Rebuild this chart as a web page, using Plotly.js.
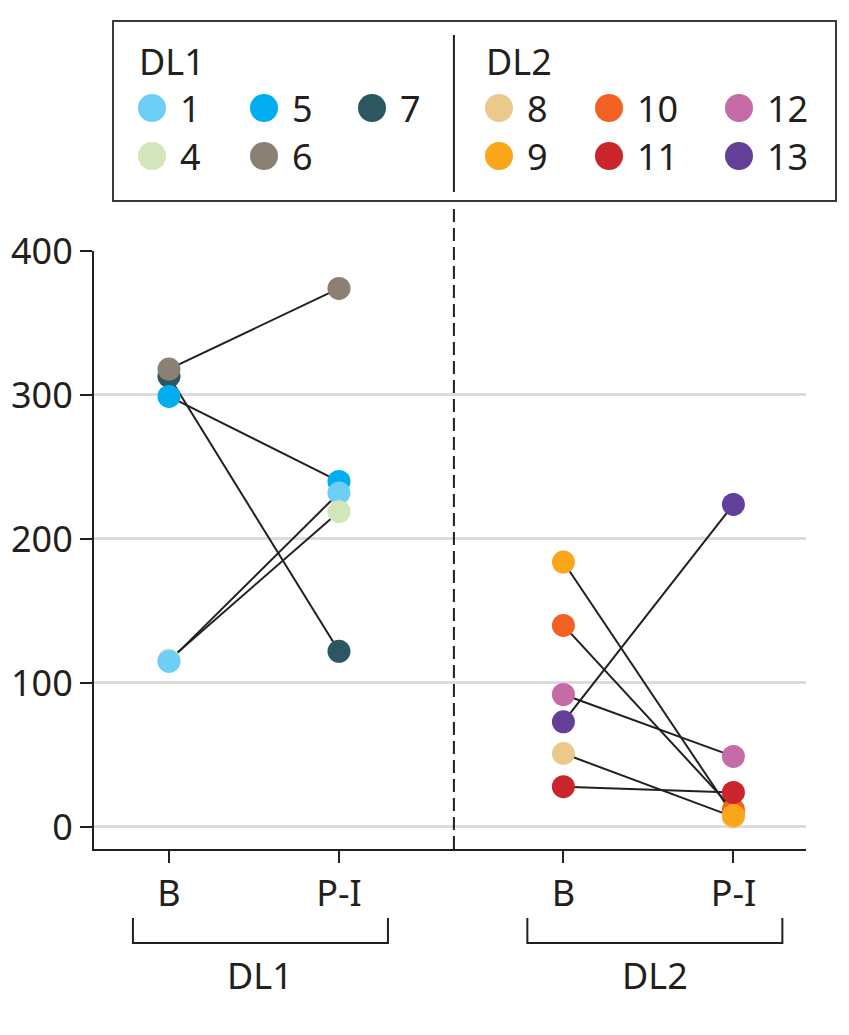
<!DOCTYPE html>
<html>
<head>
<meta charset="utf-8">
<script src="https://cdn.plot.ly/plotly-3.0.1.min.js"></script>
<style>
  body { margin: 0; background: #fff; }
  #chart { width: 849px; height: 1035px; }
</style>
</head>
<body>
<div id="chart"></div>
<script>
// time points and groups
const timepoints = ['B', 'P-I'];
const groups = ['DL1', 'DL2'];
const groupOffset = [0, 2.32];

// DL1 subjects
const dl1Ids = ['1', '4', '5', '6', '7'];
const dl1B = [115, 116, 299, 318, 313];
const dl1PI = [232, 219, 240, 374, 122];
const dl1Colors = ['#6dcff6', '#d3e5bb', '#00aeef', '#8a8172', '#2d5663'];

// DL2 subjects
const dl2Ids = ['8', '9', '10', '11', '12', '13'];
const dl2B = [51, 184, 140, 28, 92, 73];
const dl2PI = [7, 8, 12, 24, 49, 224];
const dl2Colors = ['#ebc98a', '#faa61a', '#f26122', '#c9252b', '#c56ba8', '#633f99'];

// which dot sits on top where they overlap (last drawn = on top)
const dl1OrderB = ['7', '5', '6', '4', '1'];
const dl1OrderPI = ['7', '6', '5', '1', '4'];
const dl2OrderB = ['8', '9', '10', '11', '12', '13'];
const dl2OrderPI = ['8', '10', '11', '9', '12', '13'];

const ink = '#231f20';
const fontFam = '"Noto Sans", "DejaVu Sans", sans-serif';

// plot area in pixels, used to place the decorations around it
const L = 94, R = 806, T = 251, B = 849;
const px = x => (x - L) / (R - L);
const py = y => (B - y) / (B - T);

const groupData = [
  { ids: dl1Ids, b: dl1B, pi: dl1PI, colors: dl1Colors, orderB: dl1OrderB, orderPI: dl1OrderPI },
  { ids: dl2Ids, b: dl2B, pi: dl2PI, colors: dl2Colors, orderB: dl2OrderB, orderPI: dl2OrderPI }
];

const traces = [];

// connecting lines first so the dots sit on top
groupData.forEach((g, gi) => {
  g.ids.forEach((id, i) => {
    traces.push({
      type: 'scatter',
      mode: 'lines',
      x: [groupOffset[gi], groupOffset[gi] + 1],
      y: [g.b[i], g.pi[i]],
      line: { color: ink, width: 2 },
      hoverinfo: 'skip',
      showlegend: false
    });
  });
});

// dots, one trace per group and time point
groupData.forEach((g, gi) => {
  [[g.orderB, g.b, 0], [g.orderPI, g.pi, 1]].forEach(([order, vals, t]) => {
    const idx = order.map(id => g.ids.indexOf(id));
    traces.push({
      type: 'scatter',
      mode: 'markers',
      x: idx.map(() => groupOffset[gi] + t),
      y: idx.map(i => vals[i]),
      text: idx.map(i => g.ids[i]),
      marker: { size: 23, color: idx.map(i => g.colors[i]), line: { width: 0 } },
      hovertemplate: groups[gi] + ' #%{text}<br>' + timepoints[t] + ': %{y}<extra></extra>',
      showlegend: false
    });
  });
});

const tickvals = [];
const ticktext = [];
groupOffset.forEach(off => {
  timepoints.forEach((tp, t) => { tickvals.push(off + t); ticktext.push(tp); });
});

const shapes = [];
const annotations = [];

// legend box and its divider
shapes.push({ type: 'rect', xref: 'paper', yref: 'paper',
  x0: px(113), x1: px(836), y0: py(201), y1: py(21),
  line: { color: '#3a3a3a', width: 2 }, fillcolor: 'rgba(0,0,0,0)' });
const divX = 1.676;
shapes.push({ type: 'line', xref: 'x', yref: 'paper', x0: divX, x1: divX,
  y0: py(192), y1: py(35), line: { color: ink, width: 2 } });
shapes.push({ type: 'line', xref: 'x', yref: 'paper', x0: divX, x1: divX,
  y0: 0, y1: py(203), line: { color: ink, width: 2, dash: '13px,6px' } });

// legend entries, laid out column by column
const legTitleX = [137, 484];
const legCols = [[152, 264, 372], [499, 609, 739]];
const legRows = [108, 156];
groupData.forEach((g, gi) => {
  annotations.push({ xref: 'paper', yref: 'paper', x: px(legTitleX[gi]), y: py(61),
    xanchor: 'left', yanchor: 'middle', showarrow: false, text: groups[gi],
    font: { family: fontFam, size: 36, color: ink } });
  g.ids.forEach((id, i) => {
    const cx = legCols[gi][Math.floor(i / 2)];
    const cy = legRows[i % 2];
    shapes.push({ type: 'circle', xref: 'paper', yref: 'paper',
      xsizemode: 'pixel', ysizemode: 'pixel', xanchor: px(cx), yanchor: py(cy),
      x0: -14, x1: 14, y0: -14, y1: 14,
      fillcolor: g.colors[i], line: { width: 0 } });
    annotations.push({ xref: 'paper', yref: 'paper', x: px(cx + 26), y: py(cy),
      xanchor: 'left', yanchor: 'middle', showarrow: false, text: id,
      font: { family: fontFam, size: 36, color: ink } });
  });
});

// group brackets under the axis
groupOffset.forEach((off, gi) => {
  const x0 = off - 0.212, x1 = off + 1.288;
  shapes.push({ type: 'path', xref: 'x', yref: 'paper',
    path: `M ${x0} ${py(918)} L ${x0} ${py(943)} L ${x1} ${py(943)} L ${x1} ${py(918)}`,
    line: { color: ink, width: 2 } });
  annotations.push({ xref: 'x', yref: 'paper', x: (x0 + x1) / 2, y: py(975),
    xanchor: 'center', yanchor: 'middle', showarrow: false, text: groups[gi],
    font: { family: fontFam, size: 36, color: ink } });
});

const layout = {
  width: 849,
  height: 1035,
  margin: { l: L, r: 849 - R, t: T, b: 1035 - B },
  paper_bgcolor: '#fff',
  plot_bgcolor: '#fff',
  showlegend: false,
  font: { family: fontFam, size: 36, color: ink },
  xaxis: {
    range: [-0.441, 3.747],
    tickvals: tickvals,
    ticktext: ticktext,
    ticks: 'outside',
    ticklen: 12,
    tickwidth: 2,
    tickcolor: ink,
    showgrid: false,
    zeroline: false,
    showline: true,
    linecolor: ink,
    linewidth: 2,
    tickfont: { family: fontFam, size: 36, color: ink }
  },
  yaxis: {
    range: [-15.3, 400],
    tickvals: [0, 100, 200, 300, 400],
    ticks: 'outside',
    ticklen: 12,
    tickwidth: 2,
    tickcolor: ink,
    showgrid: true,
    gridcolor: '#dcdcdc',
    gridwidth: 3,
    zeroline: false,
    showline: true,
    linecolor: ink,
    linewidth: 2,
    tickfont: { family: fontFam, size: 36, color: ink }
  },
  shapes: shapes,
  annotations: annotations
};

Plotly.newPlot('chart', traces, layout, { displayModeBar: false, responsive: false });
</script>
</body>
</html>
